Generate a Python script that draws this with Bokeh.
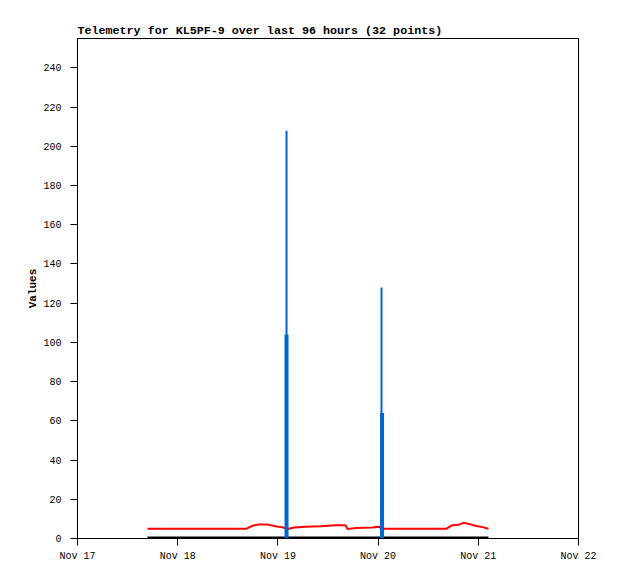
from datetime import datetime
import pandas as pd
from bokeh.plotting import figure
from bokeh.models import ColumnDataSource, Range1d, FixedTicker
from bokeh.embed import file_html
from bokeh.resources import INLINE

# ---- data ----
red_times = ["2023-11-17 16:46", "2023-11-17 22:17", "2023-11-18 04:16", "2023-11-18 10:15",
             "2023-11-18 16:29", "2023-11-18 17:55", "2023-11-18 19:21", "2023-11-18 21:16",
             "2023-11-18 23:26", "2023-11-19 01:20", "2023-11-19 02:18", "2023-11-19 03:59",
             "2023-11-19 06:37", "2023-11-19 10:12", "2023-11-19 13:48", "2023-11-19 16:11",
             "2023-11-19 16:40", "2023-11-19 18:50", "2023-11-19 22:40", "2023-11-20 00:06",
             "2023-11-20 01:04", "2023-11-20 05:22", "2023-11-20 08:58", "2023-11-20 12:33",
             "2023-11-20 16:23", "2023-11-20 17:49", "2023-11-20 19:16", "2023-11-20 20:27",
             "2023-11-20 22:08", "2023-11-20 23:34", "2023-11-21 01:01", "2023-11-21 02:26"]
red_values = [5.0, 5.0, 5.0, 5.0, 5.0, 6.5, 7.2, 7.2, 6.2, 5.6, 4.8, 5.6,
              6.0, 6.3, 6.8, 6.8, 4.9, 5.4, 5.6, 6.0, 5.0, 5.0, 5.0, 5.0,
              5.0, 6.8, 7.0, 8.0, 7.2, 6.4, 5.8, 5.0]
black_values = [0] * 32

blue_peak_times = ["2023-11-19 02:04", "2023-11-20 00:49"]
blue_peak_values = [208, 128]
blue_half_times = ["2023-11-19 02:04", "2023-11-20 00:57"]
blue_half_values = [104, 64]

x_tick_days = ["2023-11-17", "2023-11-18", "2023-11-19", "2023-11-20", "2023-11-21", "2023-11-22"]
x_tick_labels = ["Nov 17", "Nov 18", "Nov 19", "Nov 20", "Nov 21", "Nov 22"]
y_ticks = list(range(0, 241, 20))

title_text = "Telemetry for KL5PF-9 over last 96 hours (32 points)"

# ---- build ----
rt = pd.to_datetime(red_times)
src_line = ColumnDataSource(dict(t=rt, red=red_values, black=black_values))
pk = pd.to_datetime(blue_peak_times)
hf = pd.to_datetime(blue_half_times)
src_peak = ColumnDataSource(dict(t=pk, y0=[0] * len(pk), y1=blue_peak_values))
src_half = ColumnDataSource(dict(t=hf, y0=[0] * len(hf), y1=blue_half_values))

tick_dt = pd.to_datetime(x_tick_days)
tick_ms = [int(d.value // 10**6) for d in tick_dt]

p = figure(width=618, height=579, output_backend="svg", toolbar_location=None,
           x_axis_type="datetime",
           x_range=Range1d(tick_dt[0], tick_dt[-1]), y_range=Range1d(0, 255),
           min_border_left=77, min_border_right=40, min_border_top=38, min_border_bottom=41)

p.title.text = title_text
p.title.align = "left"
p.title.text_font = "Liberation Mono"
p.title.text_font_size = "11.7px"
p.title.text_font_style = "bold"
p.title.text_color = "black"
p.title.standoff = 1
p.title.offset = 0

p.grid.grid_line_color = None
p.outline_line_color = "black"
p.outline_line_width = 1
p.background_fill_color = "white"
p.border_fill_color = "white"

p.xaxis.ticker = FixedTicker(ticks=tick_ms)
p.xaxis.major_label_overrides = {ms: lab for ms, lab in zip(tick_ms, x_tick_labels)}
p.yaxis.ticker = FixedTicker(ticks=y_ticks)

for ax in (p.xaxis, p.yaxis):
    ax.major_tick_in = 0
    ax.major_tick_out = 7
    ax.minor_tick_line_color = None
    ax.major_label_text_font = "Liberation Mono"
    ax.major_label_text_font_size = "10px"
    ax.major_label_text_color = "black"
    ax.axis_line_color = "black"
    ax.major_tick_line_color = "black"

p.xaxis.major_label_standoff = 5
p.yaxis.major_label_standoff = 9
p.yaxis.axis_label = "Values"
p.yaxis.axis_label_text_font = "Liberation Mono"
p.yaxis.axis_label_text_font_size = "11px"
p.yaxis.axis_label_text_font_style = "bold"
p.yaxis.axis_label_text_color = "black"
p.yaxis.axis_label_standoff = 1

p.line("t", "black", source=src_line, line_color="black", line_width=4)
p.line("t", "red", source=src_line, line_color="#ff0000", line_width=2)
p.segment(x0="t", y0="y0", x1="t", y1="y1", source=src_half, line_color="#0066cc", line_width=4)
p.segment(x0="t", y0="y0", x1="t", y1="y1", source=src_peak, line_color="#0066cc", line_width=2)

open("out.html", "w").write(file_html(p, INLINE))
